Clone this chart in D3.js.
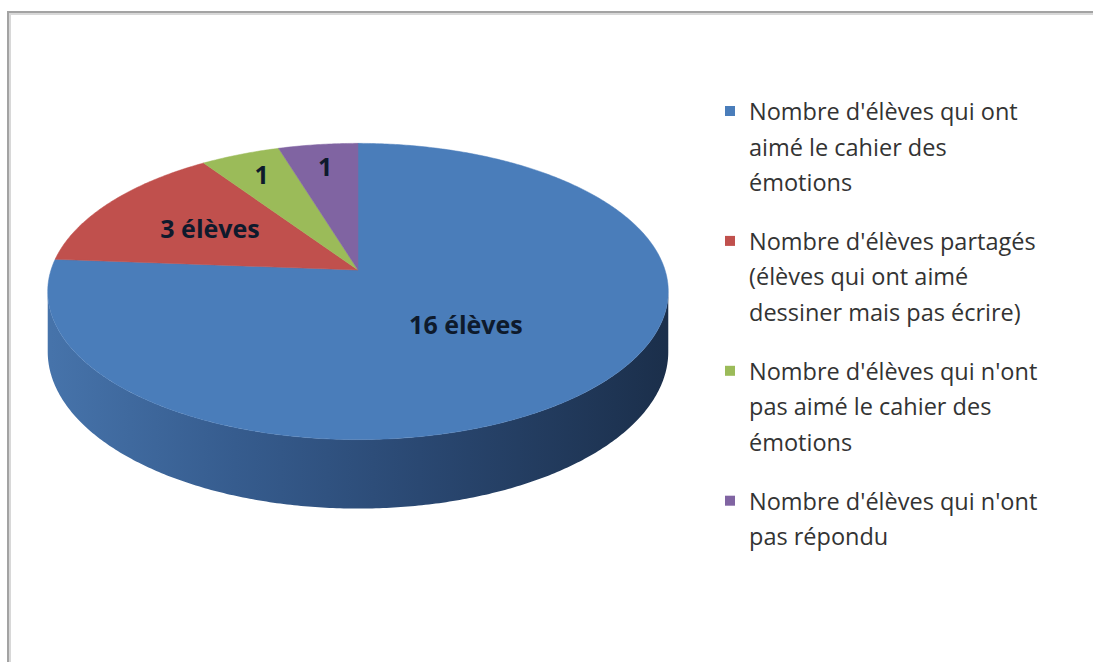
<!DOCTYPE html>
<meta charset="utf-8">
<style>
    body { margin: 0; background: #fff; overflow: hidden; }
    .lbl { font: bold 25px "Open Sans", sans-serif; fill: #0e1a2c; text-anchor: middle; }
    .leg text { font: 23.5px "Open Sans", sans-serif; fill: #333; }
</style>
<svg width="1093" height="662"></svg>
<script src="https://d3js.org/d3.v7.min.js"></script>
<script>
    // data
    var categories = [
        ["Nombre d'élèves qui ont", "aimé le cahier des", "émotions"],
        ["Nombre d'élèves partagés", "(élèves qui ont aimé", "dessiner mais pas écrire)"],
        ["Nombre d'élèves qui n'ont", "pas aimé le cahier des", "émotions"],
        ["Nombre d'élèves qui n'ont", "pas répondu"]
    ];
    var values = [16, 3, 1, 1];
    var sliceLabels = ["16 élèves", "3 élèves", "1", "1"];
    var colors = ["#4a7dba", "#c0504d", "#9bbb59", "#8064a2"];

    var svg = d3.select("svg");

    // frame (only top and left edges show)
    svg.append("path").attr("d", "M10,662V14H1093")
        .attr("fill", "none").attr("stroke", "#d8d8d8").attr("stroke-width", 2);
    svg.append("path").attr("d", "M8,662V12H1093")
        .attr("fill", "none").attr("stroke", "#a3a3a3").attr("stroke-width", 2);

    // 3D pie projection
    var cx = 358, cy = 270, rx = 307, ry = 145, persp = 0.145, depth = 59;
    function proj(a, r) {
        var s = 1 / (1 + persp * r * Math.cos(a));
        return [cx + rx * r * Math.sin(a) * s, cy - ry * r * Math.cos(a) * s];
    }
    function arcPts(a0, a1) {
        var n = Math.max(2, Math.ceil(Math.abs(a1 - a0) / 0.01)), pts = [];
        for (var i = 0; i <= n; i++) pts.push(proj(a0 + (a1 - a0) * i / n, 1));
        return pts;
    }

    var pie = d3.pie().sort(null).startAngle(0).endAngle(2 * Math.PI);
    var arcs = pie(values);
    var line = d3.line();

    var defs = svg.append("defs");
    var grad = defs.append("linearGradient").attr("id", "side")
        .attr("gradientUnits", "userSpaceOnUse")
        .attr("x1", cx - rx).attr("x2", cx + rx).attr("y1", 0).attr("y2", 0);
    grad.append("stop").attr("offset", 0).attr("stop-color", "#4673aa");
    grad.append("stop").attr("offset", 0.3).attr("stop-color", "#365c8e");
    grad.append("stop").attr("offset", 0.6).attr("stop-color", "#2a4872");
    grad.append("stop").attr("offset", 1).attr("stop-color", "#1b2f4b");

    // side wall (front half belongs to the blue slice)
    var aR = Math.acos(-persp), aL = 2 * Math.PI - aR;
    var rimTop = arcPts(aR, aL);
    var rimBottom = rimTop.map(function(p, i) {
        var a = aR + (aL - aR) * i / (rimTop.length - 1);
        return [p[0], p[1] + depth / (1 + persp * Math.cos(a))];
    }).reverse();
    svg.append("path").attr("d", line(rimTop.concat(rimBottom)) + "Z").attr("fill", "url(#side)");

    // top faces
    var g = svg.append("g");
    g.selectAll("path").data(arcs).enter().append("path")
        .attr("d", function(d) { return line([[cx, cy]].concat(arcPts(d.startAngle, d.endAngle))) + "Z"; })
        .attr("fill", function(d, i) { return colors[i]; })
        .attr("stroke", function(d, i) { return colors[i]; })
        .attr("stroke-width", 0.5);

    // slice labels
    g.selectAll("text").data(arcs).enter().append("text")
        .attr("class", "lbl")
        .attr("transform", function(d) {
            var span = d.endAngle - d.startAngle;
            var r = span > Math.PI ? 0.49 : (span > 0.5 ? 0.58 : 0.8);
            return "translate(" + proj((d.startAngle + d.endAngle) / 2, r) + ")";
        })
        .attr("dy", "0.35em")
        .text(function(d, i) { return sliceLabels[i]; });

    // legend
    var leg = svg.append("g").attr("class", "leg");
    var lh = 35.3, gap = 24, y = 112;
    categories.forEach(function(lines, i) {
        leg.append("rect").attr("x", 725).attr("y", y - 6).attr("width", 10).attr("height", 10)
            .attr("fill", colors[i]);
        lines.forEach(function(t, j) {
            leg.append("text").attr("x", 749).attr("y", y + j * lh).attr("dy", "0.35em").text(t);
        });
        y += lines.length * lh + gap;
    });
</script>
